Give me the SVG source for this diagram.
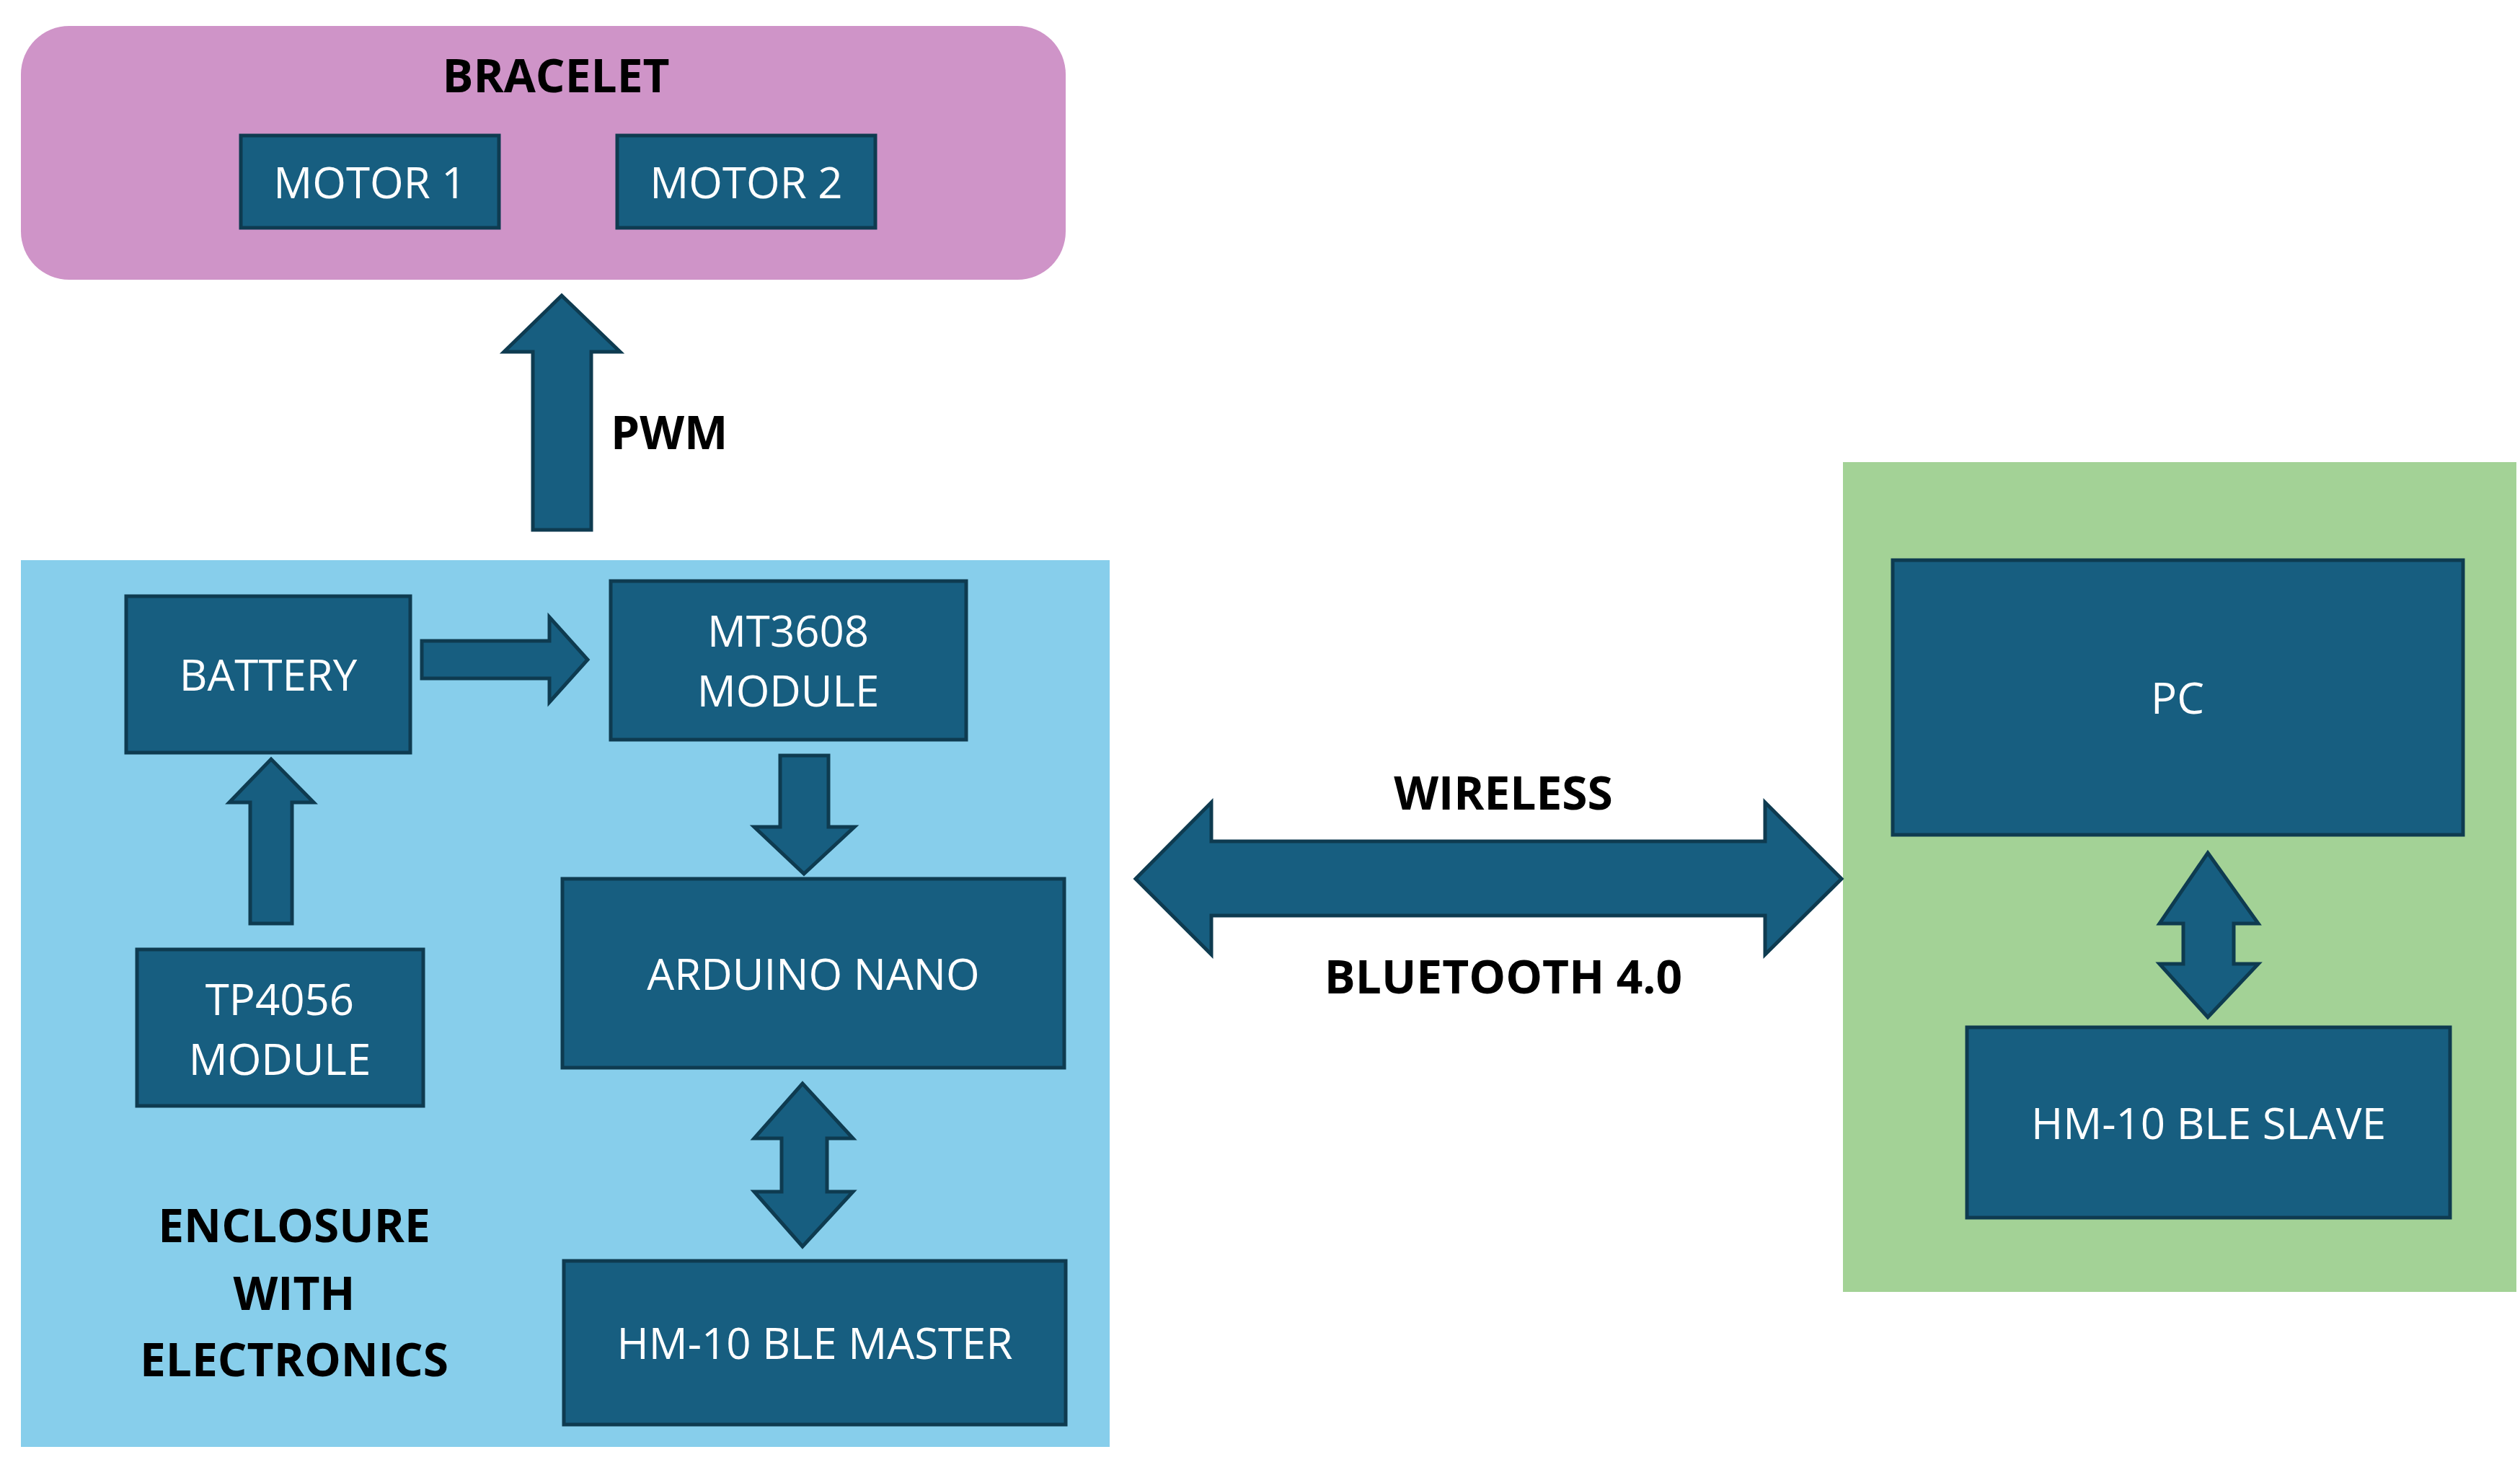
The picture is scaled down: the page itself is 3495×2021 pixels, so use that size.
<svg xmlns="http://www.w3.org/2000/svg" width="3495" height="2021" viewBox="0 0 3495 2021">
<style>
.box{fill:#175E80;stroke:#0E3B50;stroke-width:5}
.arr{fill:#175E80;stroke:#0E3B50;stroke-width:5;stroke-linejoin:miter}
.t{font-family:"Open Sans","Liberation Sans",sans-serif;font-size:60px;fill:#fff;text-anchor:middle;dominant-baseline:central}
.b{font-family:"Open Sans","Liberation Sans",sans-serif;font-size:64px;font-weight:bold;fill:#000;text-anchor:middle;dominant-baseline:central}
</style>
<rect width="3495" height="2021" fill="#fff"/>
<g id="bracelet"><rect x="29" y="36" width="1449" height="352" rx="67" fill="#CF94C8"/><text class="b" x="771" y="103">BRACELET</text></g>
<g id="enclosure"><rect x="29" y="777" width="1510" height="1230" fill="#87CEEB"/>
<text class="b" x="408" y="1698">ENCLOSURE</text><text class="b" x="408" y="1792">WITH</text><text class="b" x="408" y="1884">ELECTRONICS</text></g>
<g id="pcgroup"><rect x="2556" y="641" width="934" height="1151" fill="#A3D296"/></g>
<g id="motor1"><rect class="box" x="334" y="188" width="358" height="128"/><text class="t" x="513" y="252">MOTOR 1</text></g>
<g id="motor2"><rect class="box" x="856" y="188" width="358" height="128"/><text class="t" x="1035" y="252">MOTOR 2</text></g>
<g id="battery"><rect class="box" x="175" y="827" width="394" height="217"/><text class="t" x="372" y="935">BATTERY</text></g>
<g id="mt3608"><rect class="box" x="847" y="806" width="493" height="220"/><text class="t" x="1093" y="874">MT3608</text><text class="t" x="1093" y="957">MODULE</text></g>
<g id="arduino"><rect class="box" x="780" y="1219" width="696" height="262"/><text class="t" x="1128" y="1350">ARDUINO NANO</text></g>
<g id="tp4056"><rect class="box" x="190" y="1317" width="397" height="217"/><text class="t" x="388" y="1385">TP4056</text><text class="t" x="388" y="1468">MODULE</text></g>
<g id="master"><rect class="box" x="782" y="1749" width="696" height="227"/><text class="t" x="1130" y="1862">HM-10 BLE MASTER</text></g>
<g id="pc"><rect class="box" x="2625" y="777" width="791" height="381"/><text class="t" x="3020" y="967">PC</text></g>
<g id="slave"><rect class="box" x="2728" y="1425" width="670" height="264"/><text class="t" x="3063" y="1557">HM-10 BLE SLAVE</text></g>
<g id="connectors">
<polygon class="arr" points="739,735 739,488 699,488 779,410 860,488 820,488 820,735"/>
<polygon class="arr" points="585,889 762,889 762,856 815,915 762,974 762,941 585,941"/>
<polygon class="arr" points="347,1281 347,1113 318,1113 376,1053 435,1113 405,1113 405,1281"/>
<polygon class="arr" points="1082,1048 1149,1048 1149,1147 1185,1147 1115,1212 1046,1147 1082,1147"/>
<polygon class="arr" points="1113,1503 1183,1579 1147,1579 1147,1653 1183,1653 1113,1729 1046,1653 1084,1653 1084,1579 1046,1579"/>
<polygon class="arr" points="3062,1183 3132,1281 3098,1281 3098,1337 3132,1337 3062,1411 2995,1337 3028,1337 3028,1281 2995,1281"/>
<polygon class="arr" points="1575,1219 1680,1113 1680,1167 2448,1167 2448,1113 2554,1219 2448,1324 2448,1270 1680,1270 1680,1324"/>
<text class="b" x="847" y="598" style="text-anchor:start">PWM</text>
<text class="b" x="2085" y="1098">WIRELESS</text>
<text class="b" x="2085" y="1353">BLUETOOTH 4.0</text>
</g>
</svg>
